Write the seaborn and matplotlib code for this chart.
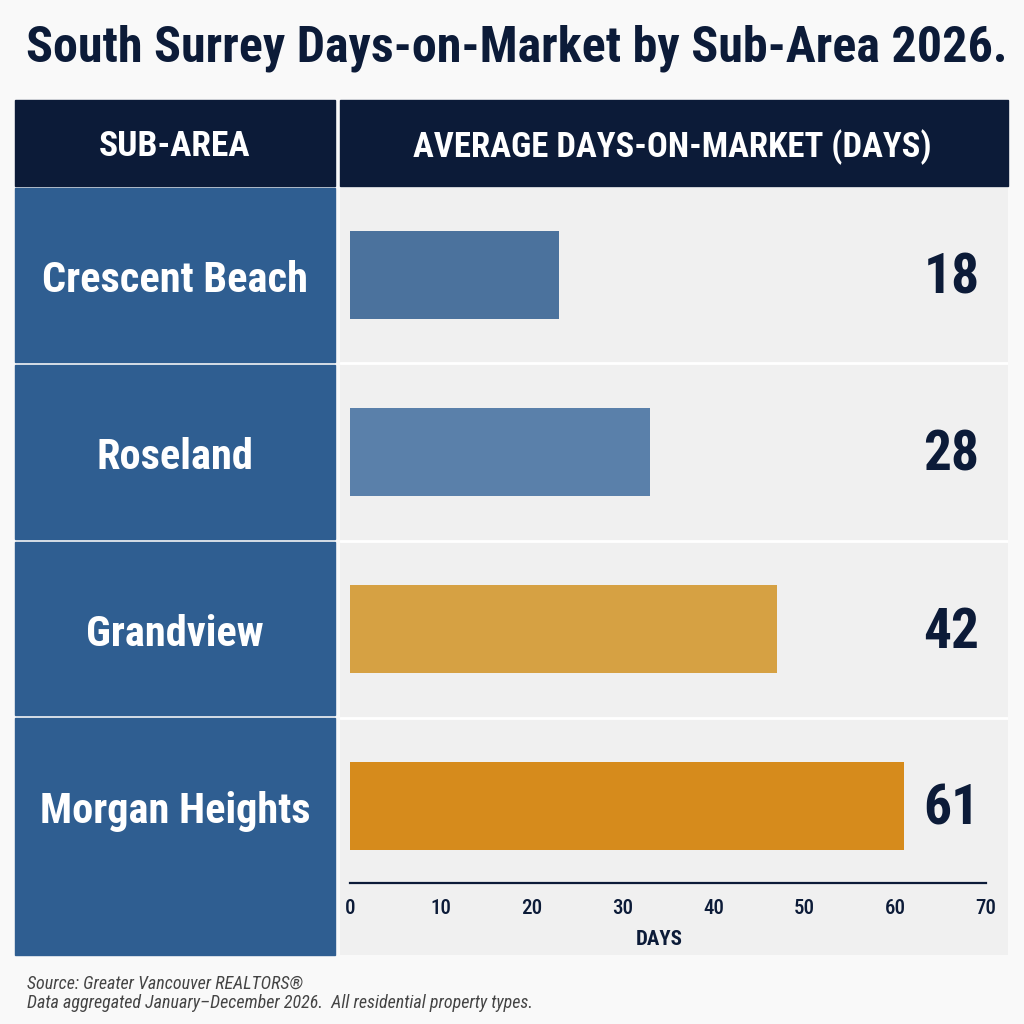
import matplotlib
matplotlib.use('Agg')
import matplotlib.pyplot as plt
import matplotlib.transforms as mtransforms
from matplotlib.patches import Rectangle
import seaborn as sns
import pandas as pd

# chart data
sub_areas = ['Crescent Beach', 'Roseland', 'Grandview', 'Morgan Heights']
bar_days = [23, 33, 47, 61]          # bar lengths as drawn against the DAYS axis
value_labels = ['18', '28', '42', '61']
bar_colors = ['#4b729d', '#5a80aa', '#d6a143', '#d68b1c']
x_ticks = [0, 10, 20, 30, 40, 50, 60, 70]

df = pd.DataFrame({'area': sub_areas, 'days': bar_days})

NAVY = '#0c1b38'
BLUE = '#2f5e91'
PANEL = '#f0f0f0'

sns.set_theme(style='white')
plt.rcParams['font.family'] = ['Roboto Condensed', 'Roboto', 'DejaVu Sans']

W = H = 1024
fig = plt.figure(figsize=(10.24, 10.24), dpi=100)
fig.patch.set_facecolor('#f9f9f9')


def fx(px):
    return px / W


def fy(py):
    return 1 - py / H


def box(x0, y0, x1, y1, color):
    fig.patches.append(Rectangle((fx(x0), fy(y1)), fx(x1) - fx(x0), fy(y0) - fy(y1),
                                 transform=fig.transFigure, color=color, zorder=-5))


# header cells
box(15, 100, 335, 186, NAVY)
box(340, 100, 1008, 186, NAVY)
fig.text(fx(175), fy(146), 'SUB-AREA', color='white', fontsize=25.5, fontweight='bold',
         ha='center', va='center')
fig.text(fx(672), fy(147), 'AVERAGE DAYS-ON-MARKET (DAYS)', color='white', fontsize=25,
         fontweight='bold', ha='center', va='center')

# left column cells
for y0, y1 in [(188, 362), (365, 539), (542, 715), (718, 955)]:
    box(15, y0, 335, y1, BLUE)

# bar panel
ax = fig.add_axes([fx(340), fy(955), fx(1008) - fx(340), (955 - 188) / H])
ax.set_facecolor(PANEL)
sns.barplot(data=df, x='days', y='area', hue='area', palette=bar_colors, legend=False,
            width=0.5, saturation=1, linewidth=0, ax=ax, zorder=3)

ppu = 636 / 70
xmin = -10 / ppu
ax.set_xlim(xmin, xmin + 668 / ppu)
ax.set_ylim(3.84, -0.49)

for yy in [0.5, 1.5, 2.5]:
    ax.axhline(yy, color='white', lw=2, zorder=2)

for sp in ['top', 'left', 'right']:
    ax.spines[sp].set_visible(False)
ax.spines['bottom'].set_position(('data', 3.435))
ax.spines['bottom'].set_bounds(0, 70)
ax.spines['bottom'].set_color(NAVY)
ax.spines['bottom'].set_linewidth(1.6)
ax.set_xticks(x_ticks)
ax.tick_params(axis='x', direction='in', length=8, width=1.5, color=NAVY,
               labelsize=15, labelcolor=NAVY, pad=11)
for t in ax.get_xticklabels():
    t.set_fontweight('medium')
ax.set_yticks([])
ax.set_xlabel('')
ax.set_ylabel('')
ax.text(34, 3.75, 'DAYS', color=NAVY, fontsize=15, fontweight='bold',
        ha='center', va='center')

# value labels and sub-area names
for i, lab in enumerate(value_labels):
    ax.text(66.2, i + 0.02, lab, color=NAVY, fontsize=40, fontweight='bold',
            ha='center', va='center', zorder=4)

trans = mtransforms.blended_transform_factory(fig.transFigure, ax.transData)
for i, name in enumerate(sub_areas):
    ax.text(fx(175), i + 0.03, name, transform=trans, color='white', fontsize=30.5,
            fontweight='bold', ha='center', va='center', clip_on=False, zorder=5)

# title and footer
fig.text(fx(517), fy(48), 'South Surrey Days-on-Market by Sub-Area 2026.', color=NAVY,
         fontsize=36, fontweight='bold', ha='center', va='center')
fig.text(fx(27), fy(984), 'Source: Greater Vancouver REALTORS\u00ae', color='#444444',
         fontsize=13, style='italic', ha='left', va='center')
fig.text(fx(27), fy(1003), 'Data aggregated January\u2013December 2026.  All residential property types.',
         color='#444444', fontsize=13, style='italic', ha='left', va='center')

fig.savefig('out.png', dpi=100, facecolor=fig.get_facecolor())
